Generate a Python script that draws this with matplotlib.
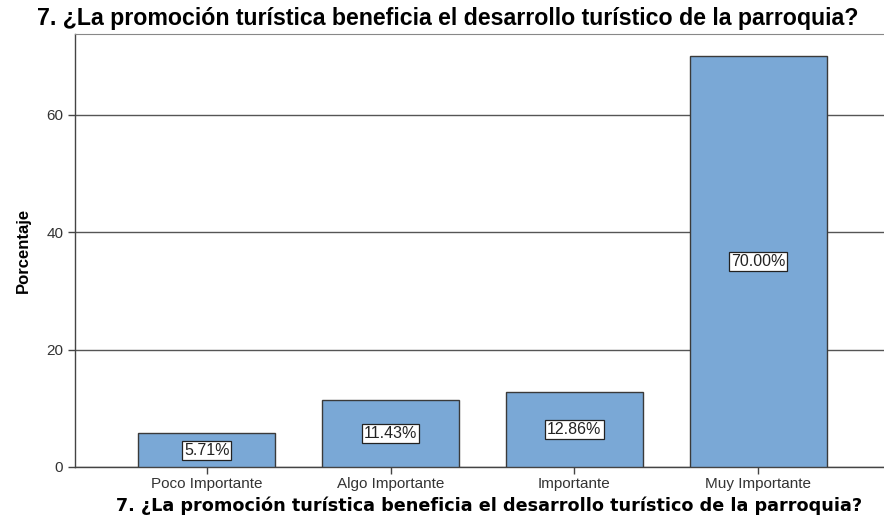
import matplotlib
matplotlib.use("Agg")
import matplotlib.pyplot as plt

# data
categorias = ["Poco Importante", "Algo Importante", "Importante", "Muy Importante"]
porcentajes = [5.71, 11.43, 12.86, 70.00]
etiquetas = ["5.71%", "11.43%", "12.86%", "70.00%"]
titulo = "7. ¿La promoción turística beneficia el desarrollo turístico de la parroquia?"

fig = plt.figure(figsize=(8.84, 5.16), dpi=100)
ax = fig.add_axes([75/884, 49/516, 815/884, 433/516])

pos = list(range(len(categorias)))
ax.bar(pos, porcentajes, width=0.745, color="#7aa8d6", edgecolor="#3a3a3a",
       linewidth=1.0, zorder=3)

# value labels in white boxes at half bar height
for x, v, t in zip(pos, porcentajes, etiquetas):
    ax.text(x, v / 2, t, ha="center", va="center", fontsize=11.5,
            family="Liberation Sans", color="#222222", zorder=4,
            bbox=dict(boxstyle="square,pad=0.12", facecolor="white",
                      edgecolor="#222222", linewidth=0.9))

ax.set_xlim(-0.717, 3.717)
ax.set_ylim(0, 73.8)
ax.set_yticks([0, 20, 40, 60])
ax.set_xticks(pos)
ax.set_xticklabels(categorias)
ax.yaxis.grid(True, color="#555555", linewidth=1.0, zorder=1)
ax.set_axisbelow(True)

for s in ["left", "bottom"]:
    ax.spines[s].set_color("#444444")
    ax.spines[s].set_linewidth(1.0)
ax.spines["top"].set_color("#888888")
ax.spines["right"].set_visible(False)

ax.tick_params(axis="both", direction="out", length=5, width=1.0,
               color="#444444", labelcolor="#333333", labelsize=11)
ax.tick_params(axis="x", pad=2)
for lbl in ax.get_xticklabels() + ax.get_yticklabels():
    lbl.set_family("Liberation Sans")

ax.set_ylabel("Porcentaje", fontsize=12, fontweight="bold",
              family=["Liberation Sans Narrow", "Liberation Sans"], labelpad=11)
ax.set_xlabel(titulo, fontsize=12.7, fontweight="bold", family="DejaVu Sans",
              labelpad=5)
ax.xaxis.set_label_coords((489 - 75) / 815, -0.09)
ax.xaxis.label.set_va("center")
fig.text(448/884, 1 - 18/516, titulo, ha="center", va="center", fontsize=16.7,
         fontweight="bold", family="Liberation Sans")

fig.savefig("out.png", dpi=100)
